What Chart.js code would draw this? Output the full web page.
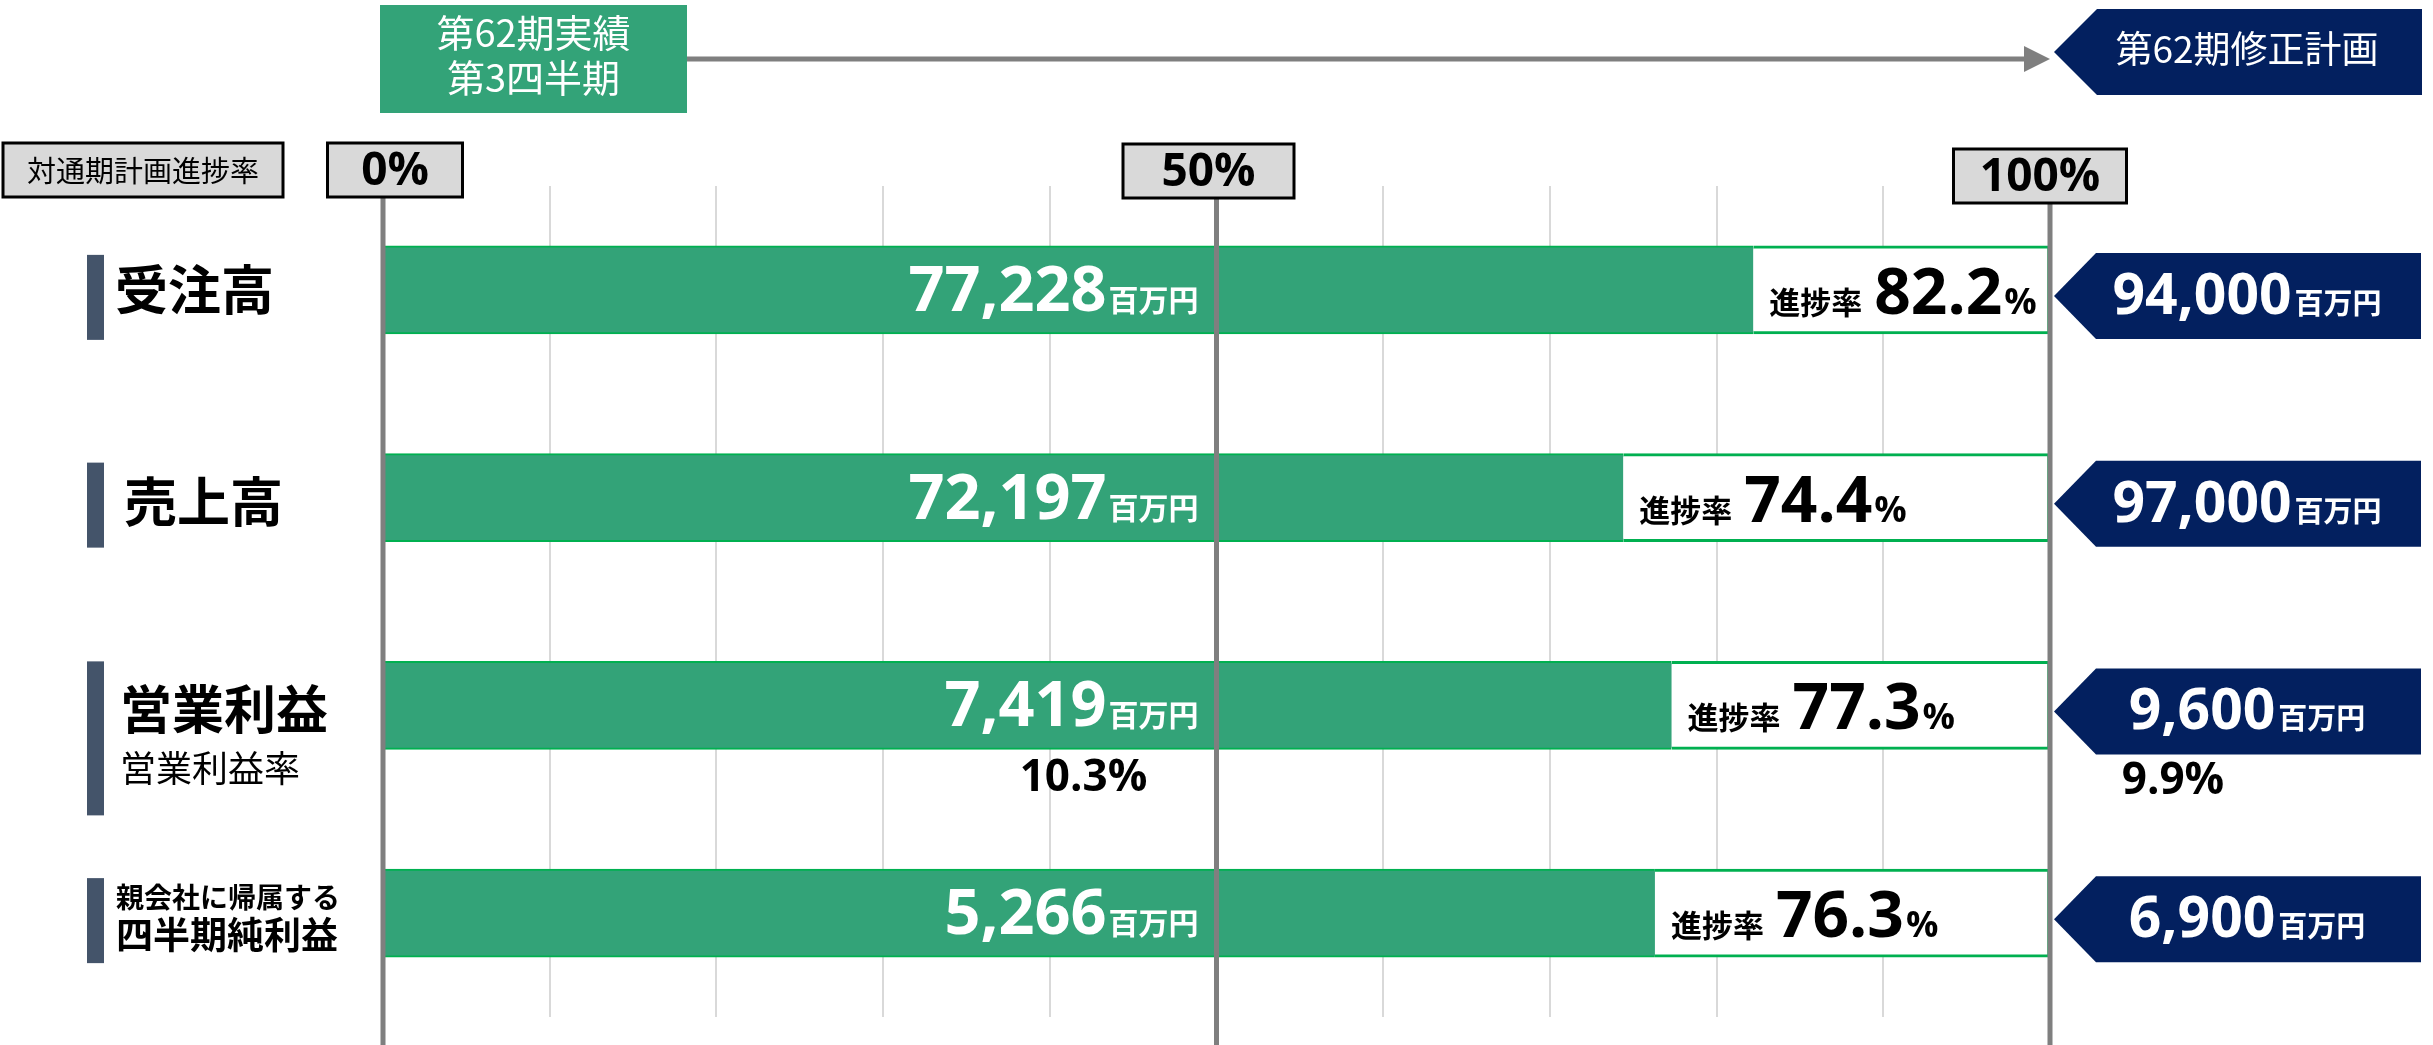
<!DOCTYPE html>
<html><head><meta charset="utf-8">
<script src="https://cdn.jsdelivr.net/npm/chart.js@4"></script>
<style>html,body{margin:0;padding:0;background:#fff;}canvas{display:block}</style>
</head><body>
<canvas id="c" width="2433" height="1045"></canvas>
<script>
// ---- data ----
const categories = [['受注高'], ['売上高'], ['営業利益', '営業利益率'], ['親会社に帰属する', '四半期純利益']];
const actualValues = [77228, 72197, 7419, 5266];      // 百万円 (第62期 第3四半期実績)
const planValues = [94000, 97000, 9600, 6900];        // 百万円 (第62期修正計画)
const progressRates = [82.2, 74.4, 77.3, 76.3];       // 進捗率 %
const marginActual = [null, null, 10.3, null];        // 営業利益率 実績 %
const marginPlan = [null, null, 9.9, null];           // 営業利益率 計画 %
const axisTickValues = [0, 50, 100];
const axisTickLabels = ['0%', '50%', '100%'];
const actualHeader = ['第62期実績', '第3四半期'];
const planHeader = '第62期修正計画';
const axisTitle = '対通期計画進捗率';
const unitLabel = '百万円';
const ratePrefix = '進捗率';

// ---- styles ----
const GREEN = '#33a378', GREEN_LINE = '#00b050', NAVY = '#03205f', GRAY = '#7f7f7f', SLATE = '#44546a';
const NUM = '"Open Sans", "Noto Sans CJK JP", sans-serif';
const JP = '"Noto Sans CJK JP", sans-serif';

function txt(ctx, s, x, y, font, color, align, base) {
  ctx.font = font; ctx.fillStyle = color;
  ctx.textAlign = align || 'left'; ctx.textBaseline = base || 'alphabetic';
  ctx.fillText(s, x, y);
}
function tw(ctx, s, font) { ctx.font = font; return ctx.measureText(s).width; }
function pentagon(ctx, tipX, cy, half, slant, right, color) {
  ctx.beginPath();
  ctx.moveTo(tipX, cy);
  ctx.lineTo(tipX + slant, cy - half);
  ctx.lineTo(right, cy - half);
  ctx.lineTo(right, cy + half);
  ctx.lineTo(tipX + slant, cy + half);
  ctx.closePath();
  ctx.fillStyle = color; ctx.fill();
}

const overlay = {
  id: 'overlay',
  afterDatasetsDraw(chart) {
    const ctx = chart.ctx, xs = chart.scales.x, ys = chart.scales.y;
    const H = chart.height;
    const xp = v => xs.getPixelForValue(v);
    const x0 = xp(0), x100 = xp(100);
    ctx.save();

    // axis header boxes + thick reference lines
    const boxOff = [12, -8, -10], boxW = [135, 171, 173], boxTop = [143, 144, 149], boxH = 54;
    axisTickValues.forEach((v, i) => {
      const lx = xp(v);
      const cx = lx + boxOff[i];
      ctx.strokeStyle = GRAY; ctx.lineWidth = 5;
      ctx.beginPath(); ctx.moveTo(lx, boxTop[i] + boxH); ctx.lineTo(lx, H); ctx.stroke();
      ctx.fillStyle = '#d9d9d9';
      ctx.fillRect(cx - boxW[i] / 2, boxTop[i], boxW[i], boxH);
      ctx.strokeStyle = '#000'; ctx.lineWidth = 3;
      ctx.strokeRect(cx - boxW[i] / 2, boxTop[i], boxW[i], boxH);
      txt(ctx, axisTickLabels[i], cx, boxTop[i] + 42, 'bold 46px ' + NUM, '#000', 'center');
    });
    // axis title box
    ctx.fillStyle = '#d9d9d9'; ctx.fillRect(3, 143, 280, 54);
    ctx.strokeStyle = '#000'; ctx.lineWidth = 3; ctx.strokeRect(3, 143, 280, 54);
    txt(ctx, axisTitle, 143, 171, '29px ' + JP, '#000', 'center', 'middle');

    // top: actual header box
    const gL = x0 - 3, gR = x0 + 304;
    ctx.fillStyle = GREEN; ctx.fillRect(gL, 5, gR - gL, 108);
    txt(ctx, actualHeader[0], (gL + gR) / 2, 33, '38px ' + JP, '#fff', 'center', 'middle');
    txt(ctx, actualHeader[1], (gL + gR) / 2, 78, '38px ' + JP, '#fff', 'center', 'middle');
    // arrow
    ctx.strokeStyle = GRAY; ctx.lineWidth = 5;
    ctx.beginPath(); ctx.moveTo(gR, 59); ctx.lineTo(x100 - 24, 59); ctx.stroke();
    ctx.fillStyle = GRAY;
    ctx.beginPath(); ctx.moveTo(x100 - 26, 46); ctx.lineTo(x100, 59); ctx.lineTo(x100 - 26, 72); ctx.closePath(); ctx.fill();
    // plan header pentagon
    pentagon(ctx, x100 + 4, 52, 43, 43, 2422, NAVY);
    txt(ctx, planHeader, 2247, 49, '37px ' + JP, '#fff', 'center', 'middle');

    // per category
    categories.forEach((lines, i) => {
      const cy = ys.getPixelForValue(i);
      // left labels
      const barSpan = i === 2 ? [-44, 110] : [-35, 50];
      ctx.fillStyle = SLATE; ctx.fillRect(87, cy + barSpan[0], 17, barSpan[1] - barSpan[0]);
      if (i === 2) {
        txt(ctx, lines[0], 120, cy + 4, 'bold 52px ' + JP, '#000', 'left', 'middle');
        txt(ctx, lines[1], 120, cy + 63, '36px ' + JP, '#000', 'left', 'middle');
      } else if (i === 3) {
        txt(ctx, lines[0], 116, cy - 16, 'bold 28px ' + JP, '#000', 'left', 'middle');
        txt(ctx, lines[1], 116, cy + 22, 'bold 37px ' + JP, '#000', 'left', 'middle');
      } else {
        txt(ctx, lines[0], i === 0 ? 115 : 124, cy + (i === 0 ? 0 : 4), 'bold 53px ' + JP, '#000', 'left', 'middle');
      }

      // inner actual label (right aligned before 50% line)
      const fNum = 'bold 63px ' + NUM, fUnit = 'bold 30px ' + JP;
      const aStr = actualValues[i].toLocaleString('en-US');
      const xr = xp(50) - 18;
      const wu = tw(ctx, unitLabel, fUnit), wn = tw(ctx, aStr, fNum);
      txt(ctx, unitLabel, xr - wu, cy + 21, fUnit, '#fff');
      txt(ctx, aStr, xr - wu - wn - 2, cy + 21, fNum, '#fff');

      // progress label
      let px = xp(progressRates[i]) + 16;
      const fPre = 'bold 31px ' + JP, fRate = 'bold 64px ' + NUM, fPct = 'bold 36px ' + NUM;
      txt(ctx, ratePrefix, px, cy + 24, fPre, '#000');
      px += tw(ctx, ratePrefix, fPre) + 12;
      const rStr = progressRates[i].toFixed(1);
      txt(ctx, rStr, px, cy + 24, fRate, '#000');
      px += tw(ctx, rStr, fRate) + 2;
      txt(ctx, '%', px, cy + 24, fPct, '#000');

      // plan pentagon
      const pc = cy + 6;
      pentagon(ctx, x100 + 4, pc, 43, 42, 2421, NAVY);
      const fPN = 'bold 57px ' + NUM, fPU = 'bold 29px ' + JP;
      const pStr = planValues[i].toLocaleString('en-US');
      const wpn = tw(ctx, pStr, fPN), wpu = tw(ctx, unitLabel, fPU);
      const sx = 2247 - (wpn + wpu + 3) / 2;
      txt(ctx, pStr, sx, cy + 24, fPN, '#fff');
      txt(ctx, unitLabel, sx + wpn + 3, cy + 24, fPU, '#fff');

      // margins
      if (marginActual[i] != null) {
        txt(ctx, marginActual[i].toFixed(1) + '%', xp(50) - 133, cy + 86, 'bold 44px ' + NUM, '#000', 'center');
      }
      if (marginPlan[i] != null) {
        txt(ctx, marginPlan[i].toFixed(1) + '%', x100 + 123, cy + 89, 'bold 44px ' + NUM, '#000', 'center');
      }
    });
    ctx.restore();
  }
};

new Chart(document.getElementById('c'), {
  type: 'bar',
  data: {
    labels: categories,
    datasets: [
      {
        data: progressRates,
        backgroundColor: GREEN,
        borderColor: GREEN_LINE,
        borderWidth: { top: 2, bottom: 2, left: 0, right: 0 },
        borderSkipped: false,
        barThickness: 88
      },
      {
        data: progressRates.map(v => 100 - v),
        backgroundColor: '#ffffff',
        borderColor: GREEN_LINE,
        borderWidth: { top: 3, bottom: 3, left: 0, right: 3 },
        borderSkipped: false,
        barThickness: 88
      }
    ]
  },
  options: {
    indexAxis: 'y',
    responsive: false,
    animation: false,
    devicePixelRatio: 1,
    layout: { padding: { left: 383, right: 383, top: 186, bottom: 28 } },
    plugins: { legend: { display: false }, tooltip: { enabled: false } },
    scales: {
      x: {
        stacked: true, min: 0, max: 100,
        ticks: { display: false, stepSize: 10 },
        grid: { color: '#d9d9d9', lineWidth: 2, drawTicks: false },
        border: { display: false },
        afterFit(s) { s.height = 0; }
      },
      y: { stacked: true, display: false }
    }
  },
  plugins: [overlay]
});
</script>
</body></html>
